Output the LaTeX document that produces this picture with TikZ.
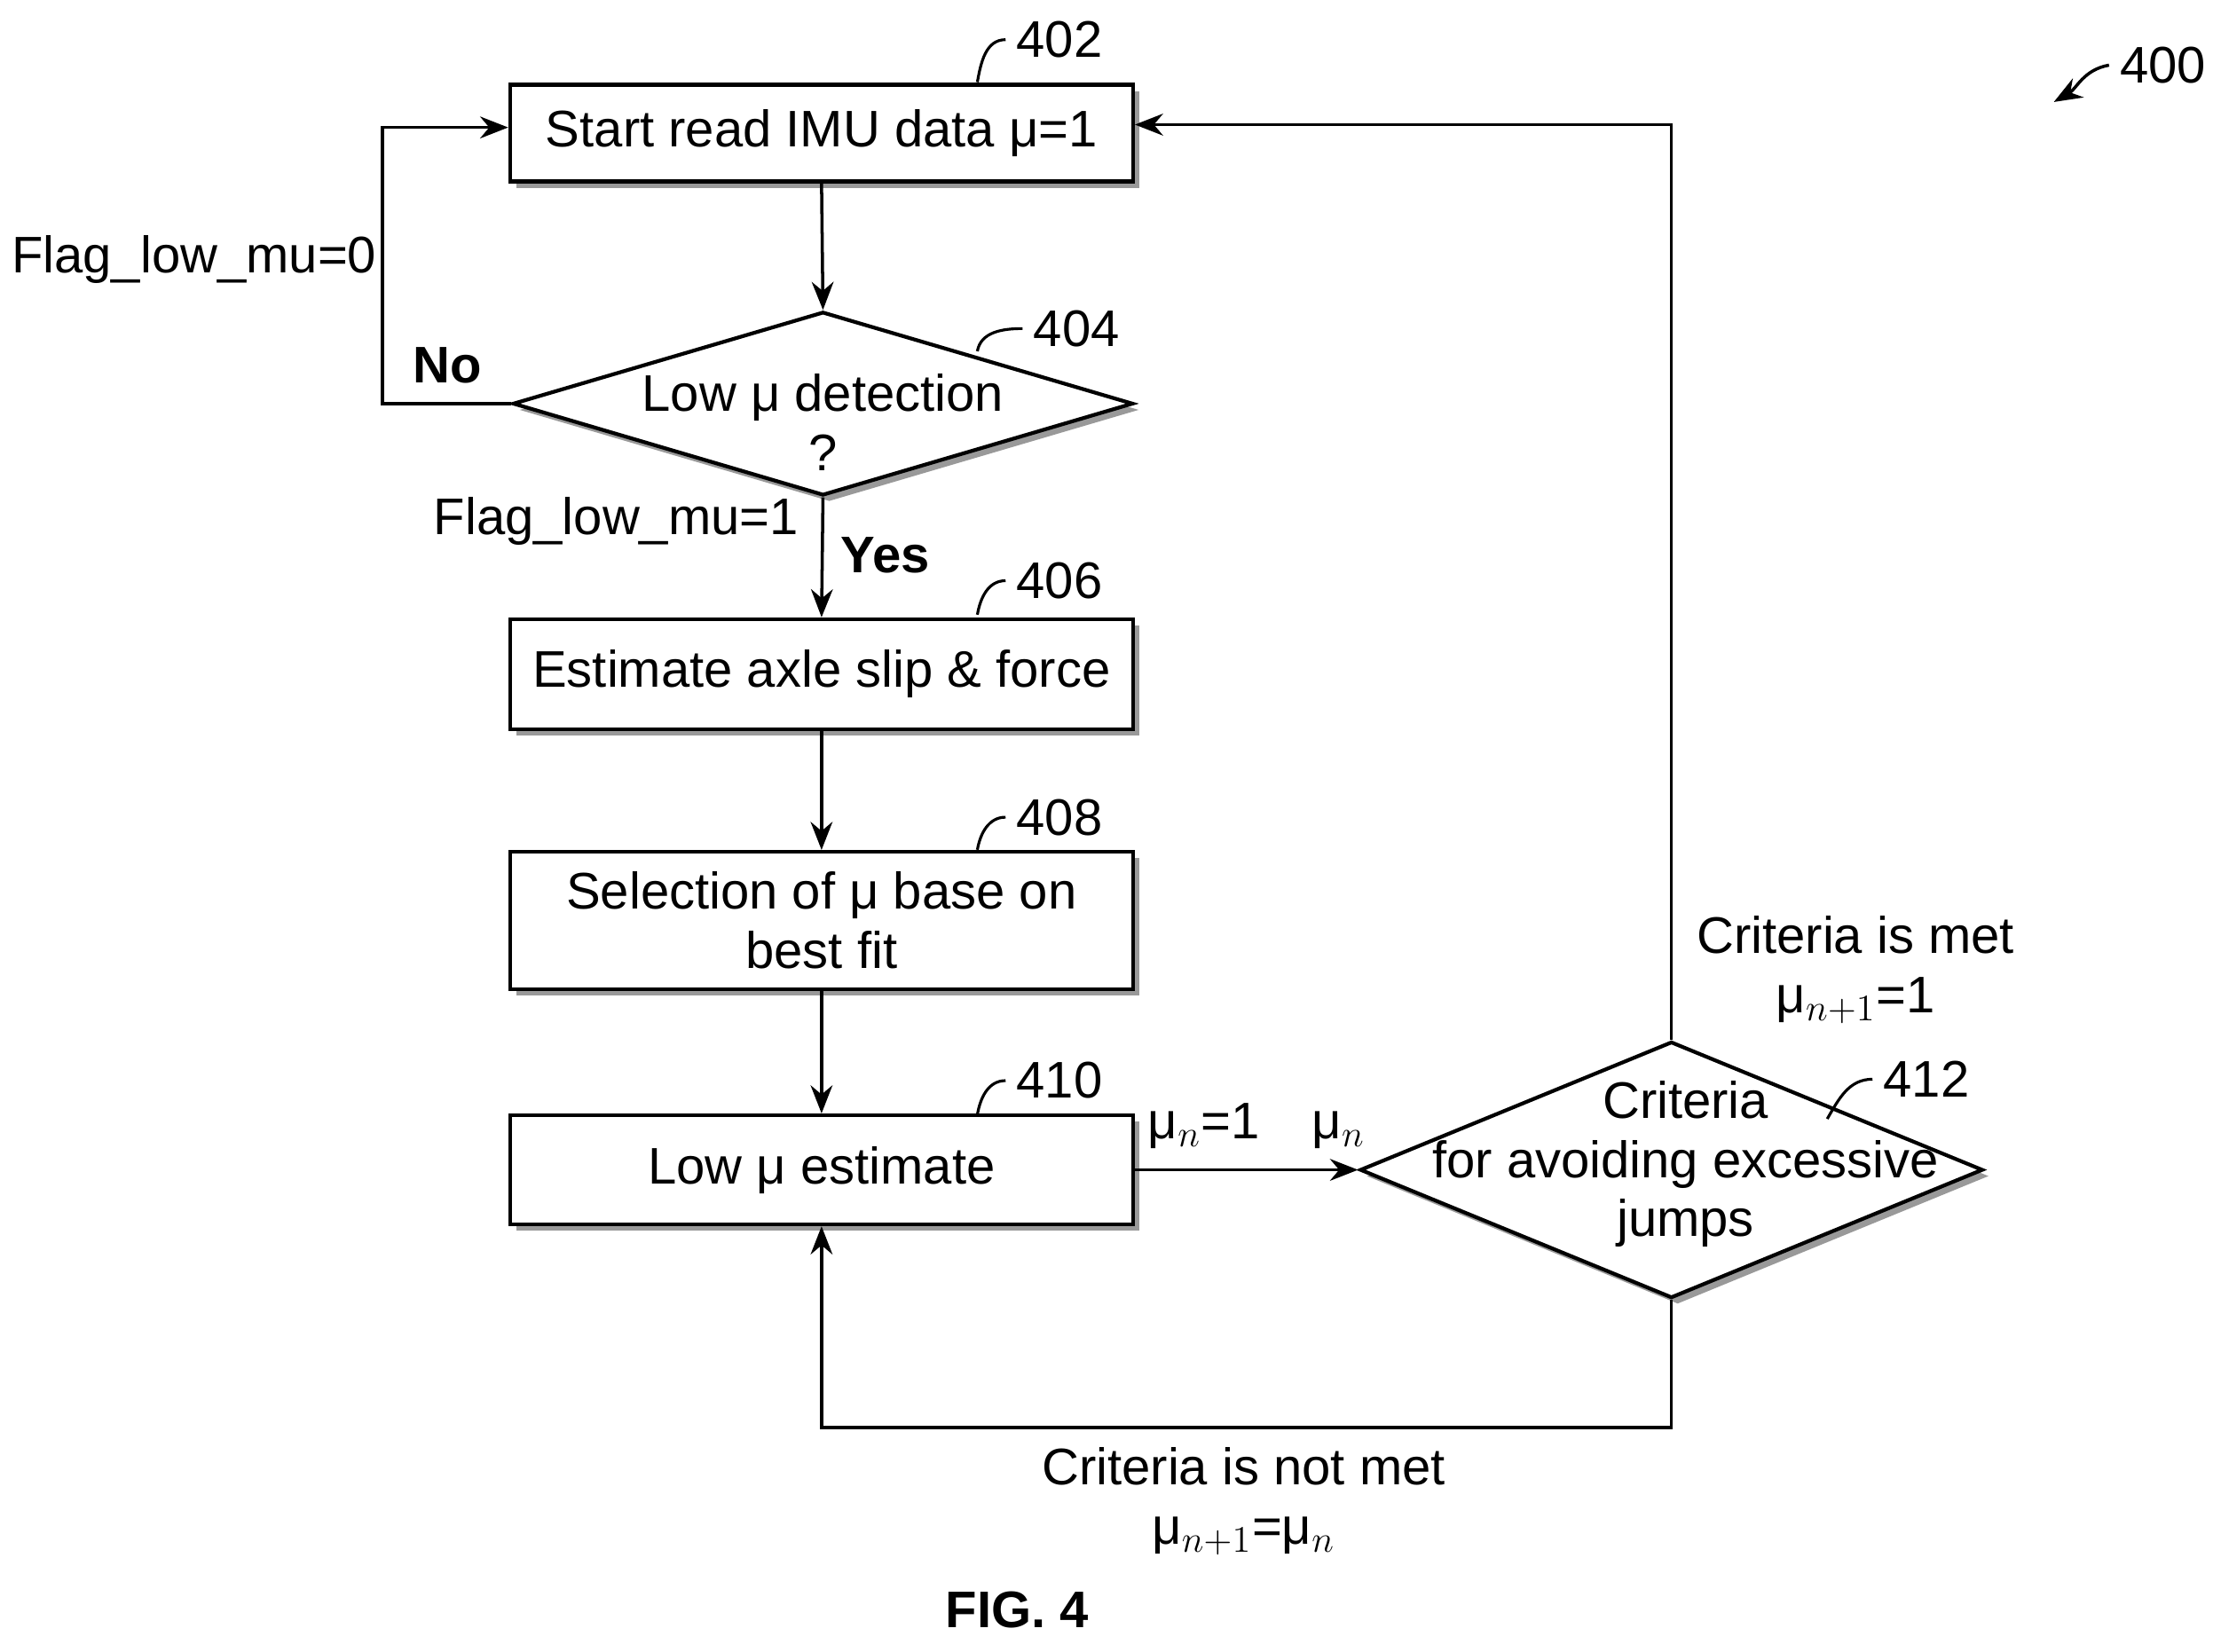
\documentclass[tikz,border=0pt]{standalone}
\usepackage{fontspec}
\setmainfont{Liberation Sans}
\usetikzlibrary{shapes.geometric,shadows,arrows.meta}
\begin{document}
\begin{tikzpicture}[x=0.01596cm,y=-0.01596cm,
  font=\fontsize{16.5}{19}\selectfont,
  box/.style={draw,line width=1.2pt,fill=white,drop shadow={shadow xshift=2pt,shadow yshift=-2pt,fill=gray!80,opacity=1},minimum width=7.02cm,align=center,inner sep=2pt},
  dia/.style={draw,diamond,line width=1.2pt,fill=white,drop shadow={shadow xshift=2pt,shadow yshift=-2pt,fill=gray!80,opacity=1},inner sep=0pt},
  arr/.style={draw,line width=1pt,-{Stealth[length=9pt,width=7pt]}},
  lead/.style={draw,line width=0.9pt}]
\useasboundingbox (0,0) rectangle (1568,1166);
\node[box,minimum height=1.09cm] (b402) at (580,94) {Start read IMU data μ=1};
\node[dia,minimum width=6.99cm,minimum height=2.07cm] (d404) at (581,285) {};
\node[align=center] (t404) at (581,298) {Low μ detection\\?};
\node[box,minimum height=1.24cm] (b406) at (580,476) {Estimate axle slip \& force};
\node[box,minimum height=1.55cm] (b408) at (580,650) {Selection of μ base on\\best fit};
\node[box,minimum height=1.23cm] (b410) at (580,826) {Low μ estimate};
\node[dia,minimum width=7.02cm,minimum height=2.89cm] (d412) at (1180,826) {};
\node[align=center] (t412) at (1190,822) {Criteria\\for avoiding excessive\\jumps};

\path[arr] (b402.south) -- (d404.north);
\path[arr] (d404.south) -- (b406.north);
\path[arr] (b406.south) -- (b408.north);
\path[arr] (b408.south) -- (b410.north);
\path[arr] (b410.east) -- (d412.west);
\path[arr] (d404.west) -- (270,285) -- (270,90) -- (b402.west |- 0,90);
\path[arr] (d412.north) -- (1180,88) -- (b402.east |- 0,88);
\path[arr] (d412.south) -- (1180,1008) -- (580,1008) -- (b410.south);

\node (lf0) at (137,183) {Flag\_low\_mu=0};
\node[font=\fontsize{16.5}{19}\selectfont\bfseries] (lno) at (316,258) {No};
\node (lf1) at (435,368) {Flag\_low\_mu=1};
\node[font=\fontsize{16.5}{19}\selectfont\bfseries] (lyes) at (625,392) {Yes};
\node (lmu1) at (850,795) {μ$_n$=1};
\node (lmun) at (945,798) {μ$_n$};
\node[align=center] (lmet) at (1310,685) {Criteria is met\\μ$_{n+1}$=1};
\node[align=center] (lnot) at (878,1060) {Criteria is not met\\μ$_{n+1}$=μ$_n$};
\node[font=\fontsize{16.5}{19}\selectfont\bfseries] (fig) at (718,1137) {FIG. 4};

\node (n402) at (748,28) {402};
\node (n404) at (760,232) {404};
\node (n406) at (748,410) {406};
\node (n408) at (748,577) {408};
\node (n410) at (748,763) {410};
\node (n412) at (1360,762) {412};
\node (n400) at (1527,46) {400};
\path[lead] (690,58) to[out=80,in=180] (n402.west);
\path[lead] (690,248) to[out=80,in=180] (n404.west);
\path[lead] (690,434) to[out=80,in=180] (n406.west);
\path[lead] (690,600) to[out=80,in=180] (n408.west);
\path[lead] (690,787) to[out=80,in=180] (n410.west);
\path[lead] (1290,790) to[out=60,in=180] (n412.west);
\coordinate (p400) at (1450,72);
\path[arr] (n400.west) to[out=190,in=30] (p400);
\end{tikzpicture}
\end{document}
